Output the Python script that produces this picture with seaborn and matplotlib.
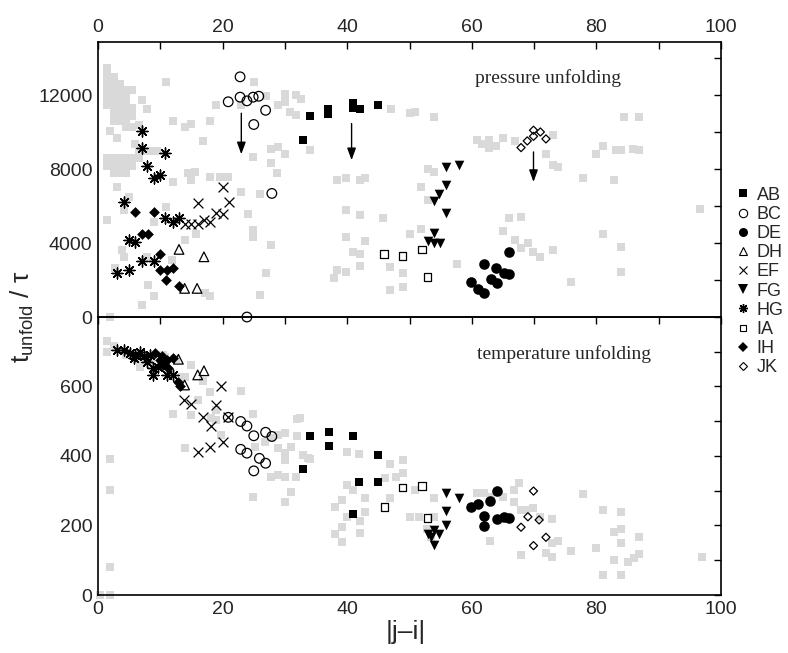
import matplotlib
matplotlib.use("Agg")
import matplotlib.pyplot as plt
import seaborn as sns
import pandas as pd
from matplotlib.lines import Line2D
from matplotlib.ticker import MultipleLocator

# data: (|j-i|, t_unfold/tau)
gray_press = [
    (1.5, 13500), (1.5, 13100), (1.5, 12700), (1.5, 12300), (1.5, 11900), (1.5, 11500),
    (2.5, 13000), (2.5, 12600), (2.5, 12200), (2.5, 11800), (2.5, 11400), (2.5, 11000), (2.5, 10600),
    (3.5, 12600), (3.5, 12200), (3.5, 11800), (3.5, 11400), (3.5, 11000), (3.5, 10600),
    (4.5, 12300), (4.5, 11900), (4.5, 11500), (4.5, 11100), (4.5, 10700), (4.5, 10300),
    (5.5, 12300), (5.5, 11300), (5.5, 10900), (5.5, 10300), (6.5, 10400),
    (10.9, 12720), (7.0, 11730), (7.9, 11280), (12.0, 10610), (14.0, 10290), (15.0, 10450),
    (17.9, 10610), (19.0, 11460), (22.9, 11460), (25.0, 12720), (26.9, 11945), (2.0, 10050),
    (3.0, 9700), (6.0, 9390), (16.9, 9530), (27.8, 9115), (28.9, 9200), (30.0, 8850),
    (27.8, 8310), (28.8, 7770), (24.9, 8665),
    (6.5, 9000), (7.5, 9000), (8.5, 9000), (9.5, 9000),
    (1.5, 8600), (2.5, 8600), (3.5, 8600), (4.5, 8600), (5.5, 8600), (6.5, 8600),
    (1.5, 8200), (2.5, 8200), (3.5, 8200), (4.5, 8200), (5.5, 8200),
    (2.5, 7800), (3.5, 7800), (4.5, 7800),
    (14.5, 7770), (15.5, 7850), (15.0, 7400), (17.9, 7580), (19.6, 7580), (20.9, 7580),
    (12.1, 7310), (3.0, 7040), (4.9, 6500), (4.1, 5780), (10.9, 5960), (1.5, 5240), (9.0, 5150),
    (22.9, 6770), (26.0, 6650), (24.0, 5600), (15.7, 4520), (13.9, 4160), (3.8, 3620),
    (4.1, 3260), (7.8, 3260), (11.8, 3080), (2.7, 2630), (8.1, 1730), (9.0, 1135), (7.0, 650),
    (17.9, 1135), (17.1, 1280), (27.8, 3890), (26.9, 2360), (26.0, 1190), (2.0, 0),
    (24.9, 4700), (24.9, 4340),
    (30.0, 12090), (30.0, 11640), (28.9, 11460), (31.8, 12000), (32.6, 11820), (30.8, 11100),
    (31.8, 10920), (47.1, 11280), (50.0, 11040), (50.8, 11100), (54.0, 10830), (34.0, 9026),
    (38.3, 7440), (39.8, 7500), (42.0, 7440), (42.8, 7500), (39.8, 5780), (42.0, 5510),
    (45.7, 5335), (39.8, 4340), (42.9, 4110), (40.9, 3530), (42.0, 3390), (42.0, 2756),
    (38.3, 2540), (39.8, 2416), (37.9, 2090), (46.9, 2690), (46.9, 1460), (48.9, 2360),
    (48.9, 1640), (50.0, 4520), (51.9, 4790), (51.9, 7040), (52.9, 8035), (54.0, 7855),
    (52.9, 6320), (57.7, 2865),
    (60.9, 9570), (62.8, 9570), (61.7, 9390), (63.9, 9240), (62.8, 9170), (65.0, 9690),
    (66.9, 9510), (73.0, 9875), (71.9, 8850), (73.0, 8250), (73.9, 8120), (84.5, 10830),
    (86.9, 10830), (81.0, 9240), (79.9, 8850), (83.1, 9060), (83.9, 9060), (85.8, 9115),
    (86.9, 9060), (77.9, 7530), (82.9, 7400), (96.7, 5820), (66.0, 5335), (67.9, 5420),
    (65.0, 4682), (66.9, 4160), (69.0, 3980), (67.9, 3710), (69.8, 3530), (70.9, 3227),
    (73.0, 3620), (81.0, 4490), (83.9, 3767), (83.9, 2416), (75.9, 1875),
]

gray_temp = [
    (1.5, 730), (1.5, 700), (2.5, 715), (1.9, 391), (1.9, 302), (1.9, 81), (1.9, 0), (0.3, 0),
    (4.5, 690), (6.5, 680), (8.5, 670), (10.5, 690), (12.5, 680), (6.8, 657), (10.8, 685),
    (13.5, 628), (15.0, 662), (13.9, 628), (16.9, 616), (17.9, 585), (16.1, 561), (22.9, 587),
    (12.0, 520), (15.0, 518), (19.0, 532), (18.2, 508), (19.0, 504), (19.8, 460), (24.9, 520),
    (13.9, 424), (31.9, 506), (31.9, 458), (30.0, 465), (28.9, 460), (25.2, 427), (26.8, 441),
    (27.8, 451), (28.9, 422), (31.0, 427), (30.0, 408), (30.0, 389), (32.9, 403), (34.0, 390),
    (27.8, 340), (28.9, 345), (30.0, 340), (31.8, 340), (31.0, 297), (30.0, 267), (24.9, 283),
    (32.4, 508), (33.7, 393), (40.0, 410), (41.9, 405), (46.8, 377), (48.9, 389), (48.9, 350),
    (47.8, 340), (46.0, 336), (40.0, 317), (40.9, 302), (39.1, 273), (38.0, 254), (40.0, 224),
    (39.1, 197), (38.0, 176), (39.1, 152), (42.0, 214), (42.0, 179), (42.9, 278), (42.9, 240),
    (46.9, 278), (50.0, 224), (51.6, 225), (50.8, 302), (54.0, 278), (54.0, 225), (52.8, 190),
    (53.5, 168), (60.8, 294), (62.0, 293), (63.1, 283), (65.0, 283), (66.8, 302), (66.8, 268),
    (67.6, 321), (67.9, 245), (62.9, 156), (67.9, 115), (68.7, 245), (69.8, 249), (70.9, 225),
    (72.9, 218), (73.9, 156), (72.9, 149), (71.9, 120), (72.9, 110), (75.9, 127), (77.9, 291),
    (79.9, 134), (81.0, 245), (83.9, 240), (82.9, 182), (83.9, 189), (83.9, 151), (82.9, 101),
    (85.0, 96), (86.1, 106), (86.9, 168), (86.9, 117), (81.0, 58), (83.9, 58), (96.9, 110),
]

ab_press = [(32.9, 9570), (34.0, 10870), (36.9, 11280), (36.9, 10970), (40.9, 11600),
            (40.9, 11300), (42.0, 11280), (44.9, 11500)]
ab_temp = [(32.9, 362), (34.0, 458), (37.0, 468), (37.0, 430), (40.9, 458), (40.9, 233),
           (41.9, 324), (44.9, 403), (44.9, 324)]
bc_press = [(20.9, 11650), (22.8, 13000), (22.8, 11900), (23.9, 11700), (24.9, 11900),
            (25.8, 11950), (26.9, 11190), (25.0, 10420), (27.9, 6690), (23.9, 0)]
bc_temp = [(20.9, 511), (22.9, 499), (23.9, 486), (25.0, 458), (26.9, 468), (27.9, 456),
           (22.9, 419), (23.9, 408), (25.9, 393), (26.9, 379), (25.0, 357)]
de_press = [(59.9, 1875), (61.0, 1500), (62.0, 1310), (62.0, 2850), (63.9, 2665),
            (63.0, 2055), (64.1, 1820), (65.1, 2360), (66.0, 2310), (65.9, 3510)]
de_temp = [(64.1, 300), (62.9, 271), (59.9, 254), (61.0, 262), (61.9, 228), (61.9, 199),
           (64.1, 219), (65.1, 225), (66.0, 221)]
dh_press = [(13.0, 3660), (17.0, 3260), (13.9, 1550), (15.9, 1550)]
dh_temp = [(12.9, 678), (17.0, 645), (16.0, 633), (13.9, 604)]
ef_press = [(13.9, 5060), (15.0, 5030), (16.1, 5010), (17.0, 5240), (18.0, 5150),
            (19.0, 5650), (20.0, 5600), (16.1, 6150), (20.0, 7040), (21.0, 6230)]
ef_temp = [(19.8, 600), (13.8, 561), (14.9, 549), (19.0, 547), (16.9, 511), (18.1, 487),
           (20.9, 511), (16.0, 412), (17.9, 427), (20.0, 439)]
fg_press = [(55.9, 8125), (57.9, 8215), (55.9, 7135), (54.8, 6650), (53.9, 6290),
            (55.9, 5605), (53.9, 4560), (52.9, 4110), (54.0, 4015), (54.9, 4015)]
fg_temp = [(55.9, 294), (57.9, 278), (55.9, 242), (55.9, 201), (54.0, 187), (52.9, 175),
           (54.8, 175), (53.9, 144), (53.5, 168)]
hg_press = [(7.0, 10070), (7.0, 9170), (10.8, 8900), (7.9, 8180), (9.0, 7530), (9.9, 7675),
            (4.1, 6230), (4.9, 4160), (5.9, 4040), (7.0, 3040), (9.0, 3040), (3.0, 2360),
            (4.9, 2540), (10.8, 5370), (12.0, 5150), (13.0, 5335)]
hg_temp = [(3.0, 705), (4.1, 705), (5.2, 696), (6.0, 691), (6.8, 700), (7.3, 686),
           (8.4, 691), (8.9, 652), (8.9, 633), (11.1, 633), (12.1, 633), (9.7, 657),
           (5.7, 681), (7.9, 671)]
ia_press = [(45.9, 3420), (48.9, 3300), (52.0, 3660), (52.9, 2180)]
ia_temp = [(48.9, 309), (52.0, 314), (46.0, 254), (52.9, 221)]
ih_press = [(6.0, 5660), (9.0, 5660), (7.0, 4470), (8.0, 4470), (10.0, 3405), (10.0, 2540),
            (11.0, 2540), (12.1, 2665), (10.9, 2000), (13.0, 1675)]
ih_temp = [(9.2, 696), (10.3, 686), (11.1, 676), (12.1, 681), (10.5, 662), (10.0, 676),
           (12.9, 614), (13.2, 600), (11.3, 652)]
jk_press = [(67.9, 9170), (68.9, 9530), (69.9, 9780), (69.9, 10110), (71.0, 10015), (71.9, 9640)]
jk_temp = [(69.9, 299), (69.0, 225), (70.8, 216), (67.9, 195), (71.9, 166), (69.9, 142)]

# arrows in the pressure panel: (x, y_start, y_end)
arrows_press = [(23.0, 11030, 8810), (40.7, 10470, 8490), (69.9, 8935, 7310)]

series_names = ["AB", "BC", "DE", "DH", "EF", "FG", "HG", "IA", "IH", "JK"]
series_press = [ab_press, bc_press, de_press, dh_press, ef_press,
                fg_press, hg_press, ia_press, ih_press, jk_press]
series_temp = [ab_temp, bc_temp, de_temp, dh_temp, ef_temp,
               fg_temp, hg_temp, ia_temp, ih_temp, jk_temp]

rows = []
for name, pp, tt in zip(series_names, series_press, series_temp):
    rows += [(name, "pressure", x, y) for x, y in pp]
    rows += [(name, "temperature", x, y) for x, y in tt]
df = pd.DataFrame(rows, columns=["series", "panel", "x", "y"])
gray = pd.DataFrame(
    [("pressure", x, y) for x, y in gray_press] + [("temperature", x, y) for x, y in gray_temp],
    columns=["panel", "x", "y"],
)

# marker styles (scatter kwargs, legend kwargs)
K = "black"
styles = {
    "AB": (dict(marker="s", s=38, color=K, linewidth=0), dict(marker="s", ms=5.5, mfc=K, mew=0)),
    "BC": (dict(marker="o", s=48, facecolor="none", edgecolor=K, linewidth=0.9), dict(marker="o", ms=6, mfc="none", mew=0.8)),
    "DE": (dict(marker="o", s=58, color=K, linewidth=0), dict(marker="o", ms=6.5, mfc=K, mew=0)),
    "DH": (dict(marker="^", s=48, facecolor="none", edgecolor=K, linewidth=0.9), dict(marker="^", ms=6, mfc="none", mew=0.8)),
    "EF": (dict(marker="x", s=50, color=K, linewidth=0.9), dict(marker="x", ms=6, mew=0.8)),
    "FG": (dict(marker="v", s=48, color=K, linewidth=0), dict(marker="v", ms=6.5, mfc=K, mew=0)),
    "HG": (dict(marker=(8, 2, 0), s=62, color=K, linewidth=1.0), dict(marker=(8, 2, 0), ms=6.5, mew=1.0)),
    "IA": (dict(marker="s", s=30, facecolor="none", edgecolor=K, linewidth=0.9), dict(marker="s", ms=5, mfc="none", mew=0.8)),
    "IH": (dict(marker="D", s=30, color=K, linewidth=0), dict(marker="D", ms=5, mfc=K, mew=0)),
    "JK": (dict(marker="D", s=17, facecolor="none", edgecolor=K, linewidth=0.9), dict(marker="D", ms=4, mfc="none", mew=0.8)),
}

sns.set_theme(style="white")
plt.rcParams["font.family"] = ["Liberation Sans", "DejaVu Sans"]
plt.rcParams["mathtext.fontset"] = "custom"
plt.rcParams["mathtext.rm"] = "Liberation Sans"
plt.rcParams["mathtext.it"] = "Liberation Sans"

fig = plt.figure(figsize=(7.88, 6.53), dpi=100)
fig.patch.set_facecolor("white")
ax_p = fig.add_axes([0.1244, 0.5145, 0.7906, 0.4216])
ax_t = fig.add_axes([0.1244, 0.0888, 0.7906, 0.4257])

for ax, panel in [(ax_p, "pressure"), (ax_t, "temperature")]:
    ax.set_facecolor("none")
    sns.scatterplot(data=gray[gray.panel == panel], x="x", y="y", ax=ax, marker="s",
                    s=32, color="#d9d9d9", linewidth=0, zorder=1, clip_on=False, legend=False)
    for name in series_names:
        kw = styles[name][0]
        sub = df[(df.series == name) & (df.panel == panel)]
        sns.scatterplot(data=sub, x="x", y="y", ax=ax, zorder=3, clip_on=False,
                        legend=False, **kw)
    ax.set_xlim(0, 100)
    ax.set_xlabel("")
    ax.set_ylabel("")
    ax.xaxis.set_major_locator(MultipleLocator(20))
    ax.xaxis.set_minor_locator(MultipleLocator(10))
    ax.tick_params(which="both", direction="in", top=True, right=True, length=5,
                   width=1, color=K, labelsize=14, pad=4)
    for sp in ax.spines.values():
        sp.set_color(K)
        sp.set_linewidth(1.2)

ax_p.set_ylim(0, 14900)
ax_p.yaxis.set_major_locator(MultipleLocator(4000))
ax_p.yaxis.set_minor_locator(MultipleLocator(2000))
ax_p.tick_params(labeltop=True, labelbottom=False)

ax_t.set_ylim(0, 799.5)
ax_t.yaxis.set_major_locator(MultipleLocator(200))
ax_t.yaxis.set_minor_locator(MultipleLocator(100))

for x, y0, y1 in arrows_press:
    ax_p.annotate("", xy=(x, y1), xytext=(x, y0), zorder=4,
                  arrowprops=dict(arrowstyle="-|>,head_length=0.6,head_width=0.22",
                                  color=K, lw=1, shrinkA=0, shrinkB=0))

ax_p.text(72.3, 12950, "pressure unfolding", family="Liberation Serif", fontsize=14,
          ha="center", va="center")
ax_t.text(74.8, 692, "temperature unfolding", family="Liberation Serif", fontsize=14,
          ha="center", va="center")

fig.text(0.028, 0.515, r"$\mathregular{t_{unfold}}$ / $\mathregular{\tau}$", rotation=90,
         fontsize=19, ha="center", va="center")
fig.text(0.5155, 0.032, "|j\u2013i|", fontsize=19, ha="center", va="center")

handles = []
for name in series_names:
    lk = dict(styles[name][1])
    handles.append(Line2D([], [], linestyle="none", color=K, mec=K, label=name, **lk))
fig.legend(handles=handles, loc="upper left", bbox_to_anchor=(0.934, 0.714),
           frameon=False, fontsize=13, handlelength=0.8, handletextpad=0.35,
           labelspacing=0.12, borderpad=0, borderaxespad=0)

fig.savefig("out.png", dpi=100, facecolor="white")
